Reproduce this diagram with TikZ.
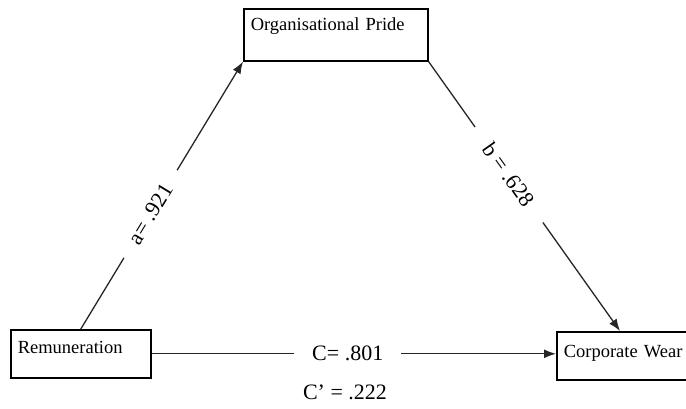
\documentclass[tikz,border=0pt]{standalone}
\usepackage{fontspec}
\setmainfont{Liberation Serif}
\usetikzlibrary{arrows.meta}

\tikzset{
    box/.style={rectangle, draw, line width=1.6pt, anchor=north west, align=left,
        inner xsep=7pt, inner ysep=0pt, font=\fontsize{18.5}{20}\selectfont},
    coef/.style={font=\fontsize{22}{24}\selectfont},
    path/.style={line width=1.3pt, draw=black!85, -{Latex[length=12pt,width=9pt]}}
}

\begin{document}
\begin{tikzpicture}[x=1pt, y=-1pt]
    \useasboundingbox (0,0) rectangle (686,408);
    \clip (0,0) rectangle (686,408);
    \node[box, text width=170pt, text height=22pt, text depth=30pt] (pride) at (243,8) {Organisational Pride};
    \node[box, text width=126pt, text height=24pt, text depth=24pt] (pay) at (10,329) {Remuneration};
    \node[box, text width=150pt, text height=26pt, text depth=22pt] (wear) at (556,331) {Corporate Wear};
    \draw[path] (pay.north) -- node[coef, pos=0.43, sloped, fill=white, inner xsep=18pt] {a= .921} (pride.south west);
    \draw[path] (pride.south east) -- node[coef, pos=0.42, sloped, fill=white, inner xsep=22pt] {b = .628} ([xshift=64pt]wear.north west);
    \draw[path] (pay.east) -- node[coef, pos=0.485, fill=white, inner xsep=18pt] {C= .801} (pay.east -| wear.west);
    \node[coef] (direct) at (345,392) {C’ = .222};
\end{tikzpicture}
\end{document}
